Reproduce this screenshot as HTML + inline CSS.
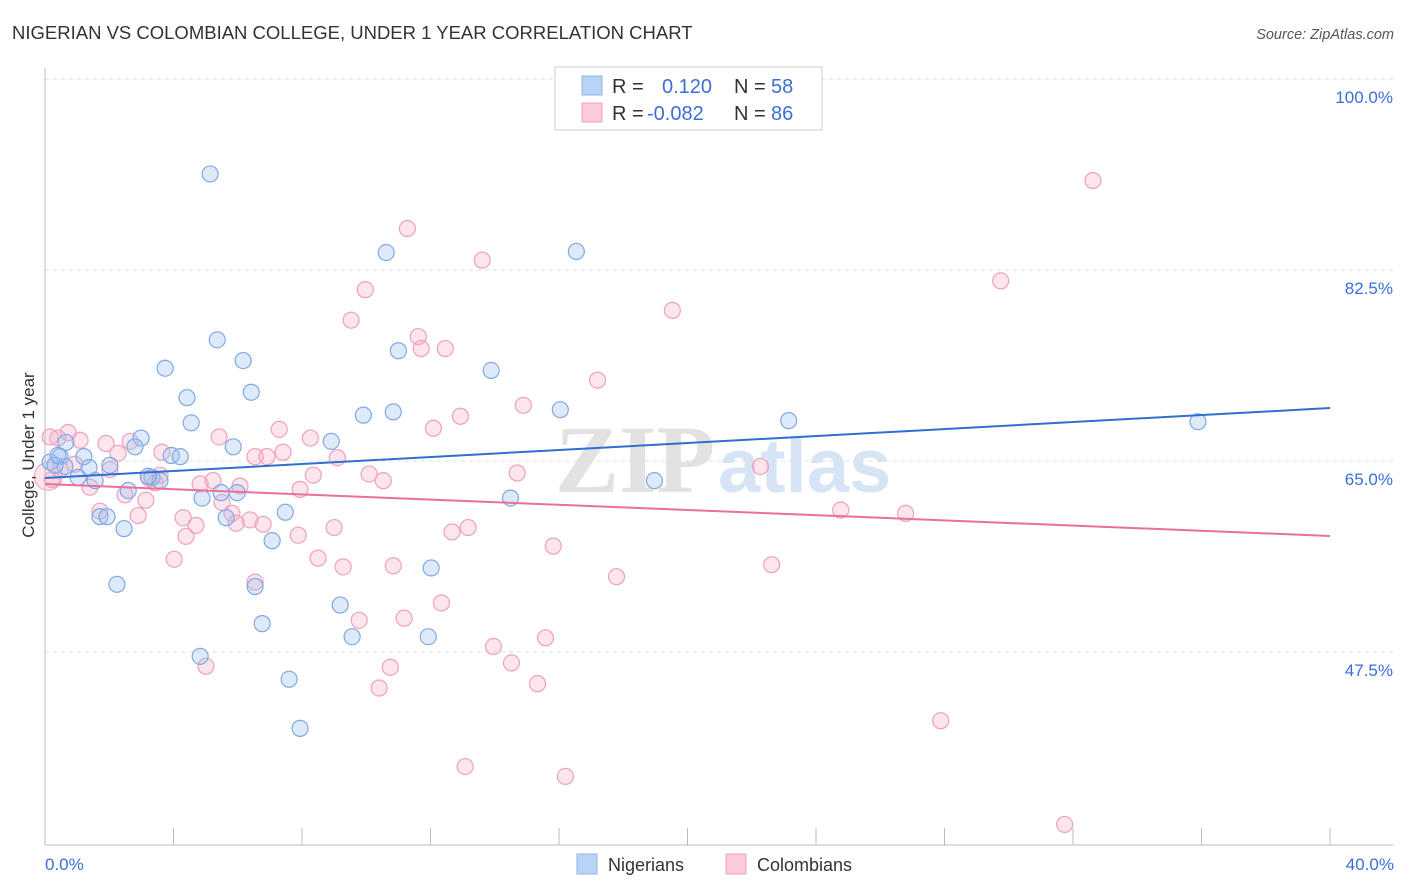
<!DOCTYPE html>
<html><head><meta charset="utf-8"><style>
body{margin:0;background:#fff;font-family:"Liberation Sans",sans-serif;}
#wrap{position:relative;width:1406px;height:892px;overflow:hidden;}
</style></head><body>
<div id="wrap">
<svg id="chart" width="1406" height="892" style="position:absolute;left:0;top:0">
<text x="12" y="39" font-size="18.5" fill="#333">NIGERIAN VS COLOMBIAN COLLEGE, UNDER 1 YEAR CORRELATION CHART</text>
<text x="1394" y="39" font-size="14.5" fill="#555" font-style="italic" text-anchor="end">Source: ZipAtlas.com</text>
<text x="555" y="492" font-size="96" fill="#e2e2e2" font-family="Liberation Serif" font-weight="bold">ZIP</text>
<text x="718" y="492" font-size="76" fill="#d6e4f5" font-weight="bold">atlas</text>
<g id="grid"></g><g id="axes"></g><g id="pts"></g><g id="trend"></g>
<text transform="translate(34,455) rotate(-90)" font-size="17" fill="#333" text-anchor="middle">College, Under 1 year</text>
<text x="45" y="870" font-size="17" fill="#3a6fd8">0.0%</text>
<text x="1394" y="870" font-size="17" fill="#3a6fd8" text-anchor="end">40.0%</text>
<g>
<rect x="555" y="67" width="267" height="63" fill="#fff" stroke="#ccc"/>
<rect x="582" y="76" width="20" height="19" fill="#b9d3f5" stroke="#8db4e8"/>
<rect x="582" y="103" width="20" height="19" fill="#fbcadb" stroke="#f0a0bc"/>
<text x="612" y="93" font-size="20" fill="#333">R = </text><text x="662" y="93" font-size="20" fill="#3a6fd8">0.120</text>
<text x="734" y="93" font-size="20" fill="#333">N = </text><text x="771" y="93" font-size="20" fill="#3a6fd8">58</text>
<text x="612" y="120" font-size="20" fill="#333">R = </text><text x="647" y="120" font-size="20" fill="#3a6fd8">-0.082</text>
<text x="734" y="120" font-size="20" fill="#333">N = </text><text x="771" y="120" font-size="20" fill="#3a6fd8">86</text>
</g>
<g>
<rect x="577" y="854" width="20" height="20" fill="#b9d3f5" stroke="#8db4e8"/>
<text x="608" y="871" font-size="18" fill="#333">Nigerians</text>
<rect x="726" y="854" width="20" height="20" fill="#fbcadb" stroke="#f0a0bc"/>
<text x="757" y="871" font-size="18" fill="#333">Colombians</text>
</g>
</svg>
</div>
<script>
const yTicks=[100,82.5,65,47.5];
const yTickLabels=["100.0%","82.5%","65.0%","47.5%"];
const xTicks=[0,4,8,12,16,20,24,28,32,36,40];
const nigX=[5.14,10.62,16.54,5.36,3.74,6.17,11.0,13.89,4.42,6.42,9.91,10.84,16.04,23.15,35.89,4.55,2.99,2.8,5.86,8.91,3.93,4.21,2.02,1.21,0.47,0.16,0.62,1.03,1.56,3.33,3.58,2.59,5.48,5.98,4.89,14.49,18.97,1.71,1.93,2.46,5.64,7.48,7.07,12.02,2.24,6.54,9.19,6.76,9.56,11.93,4.83,7.6,7.94,0.65,0.31,1.37,3.21,0.4];
const nigY=[91.3,84.1,84.2,76.1,73.5,74.2,75.1,73.3,70.8,71.3,69.2,69.5,69.7,68.7,68.6,68.5,67.1,66.3,66.3,66.8,65.5,65.4,64.6,65.4,65.4,64.9,64.5,63.5,63.2,63.5,63.2,62.3,62.1,62.1,61.6,61.6,63.2,59.9,59.9,58.8,59.8,60.3,57.7,55.2,53.7,53.5,51.8,50.1,48.9,48.9,47.1,45.0,40.5,66.7,64.6,64.4,63.6,65.5];
const colX=[32.62,11.28,13.61,9.97,29.75,9.53,19.53,11.62,11.71,12.46,17.2,14.89,12.93,12.09,7.29,8.26,5.42,2.65,1.9,1.09,0.72,0.4,0.16,22.27,6.54,7.41,6.91,9.1,2.27,3.64,10.09,10.53,8.35,14.7,4.83,5.23,6.07,3.24,3.43,7.94,1.4,2.49,3.14,1.71,2.9,5.51,5.82,4.3,4.7,4.39,6.38,6.79,5.95,7.88,9.0,12.67,13.17,15.82,24.77,26.79,4.02,8.5,9.28,10.84,17.79,22.62,6.54,12.34,9.78,11.18,15.58,13.96,14.52,10.75,5.01,15.33,10.4,27.88,13.08,16.2,31.74,0.47,0.22,0.93,2.02,3.58];
const colY=[90.7,86.3,83.4,80.7,81.5,77.9,78.8,76.4,75.3,75.3,72.4,70.1,69.1,68.0,67.9,67.1,67.2,66.8,66.6,66.9,67.6,67.1,67.2,64.5,65.4,65.8,65.4,65.3,65.7,65.8,63.8,63.2,63.7,63.9,62.9,63.2,62.7,63.4,63.0,62.4,62.6,61.9,61.4,60.4,60.0,61.2,60.2,59.8,59.1,58.1,59.6,59.2,59.3,58.2,58.9,58.5,58.9,57.2,60.5,60.2,56.0,56.1,55.3,55.4,54.4,55.5,53.9,52.0,50.4,50.6,48.8,48.0,46.5,46.1,46.2,44.6,44.2,41.2,37.0,36.1,31.7,64.2,63.3,64.7,64.2,63.7];
const trendX=[0,40];
const nigTrend=[63.44,69.85];
const colTrend=[62.89,58.13];

const NS="http://www.w3.org/2000/svg";
const xs=v=>45+v*(1285/40);
const ys=v=>79+(100-v)*10.914;
function mk(tag,attrs,parent){const e=document.createElementNS(NS,tag);for(const k in attrs)e.setAttribute(k,attrs[k]);parent.appendChild(e);return e;}
const grid=document.getElementById('grid'),axes=document.getElementById('axes'),pts=document.getElementById('pts'),trend=document.getElementById('trend'),svg=document.getElementById('chart');
yTicks.forEach((t,i)=>{
  const l=mk('line',{x1:45,x2:1393,y1:ys(t),y2:ys(t),stroke:'#ddd','stroke-dasharray':'4,4'},grid);
  
  
  const tx=mk('text',{x:1393,y:ys(t)+24,'font-size':17,fill:'#3a6fd8','text-anchor':'end'},svg);
  tx.textContent=yTickLabels[i];
  
  
});
const ax=mk('line',{x1:45,x2:45,y1:68,y2:845,stroke:'#bbb'},axes);


const bx=mk('line',{x1:45,x2:1393,y1:845,y2:845,stroke:'#bbb'},axes);


xTicks.forEach(t=>{
  const l=mk('line',{x1:xs(t),x2:xs(t),y1:828,y2:845,stroke:'#bbb'},axes);
  
  
});
const big=mk('circle',{cx:xs(0.1),cy:ys(63.6),r:14,fill:'rgba(245,170,195,0.3)',stroke:'#f0a0bc'},pts);


colX.forEach((x,i)=>{
  const c=mk('circle',{cx:xs(x),cy:ys(colY[i]),r:8,fill:'rgba(245,170,195,0.3)',stroke:'#f0a0bc','stroke-width':1.2},pts);
  
  
});
nigX.forEach((x,i)=>{
  const c=mk('circle',{cx:xs(x),cy:ys(nigY[i]),r:8,fill:'rgba(160,196,240,0.35)',stroke:'#7fa9e4','stroke-width':1.2},pts);
  
  
});
const t1=mk('line',{x1:xs(trendX[0]),x2:xs(trendX[1]),y1:ys(nigTrend[0]),y2:ys(nigTrend[1]),stroke:'#2f6fd0','stroke-width':2},trend);


const t2=mk('line',{x1:xs(trendX[0]),x2:xs(trendX[1]),y1:ys(colTrend[0]),y2:ys(colTrend[1]),stroke:'#e8709a','stroke-width':2},trend);


</script>
</body></html>
